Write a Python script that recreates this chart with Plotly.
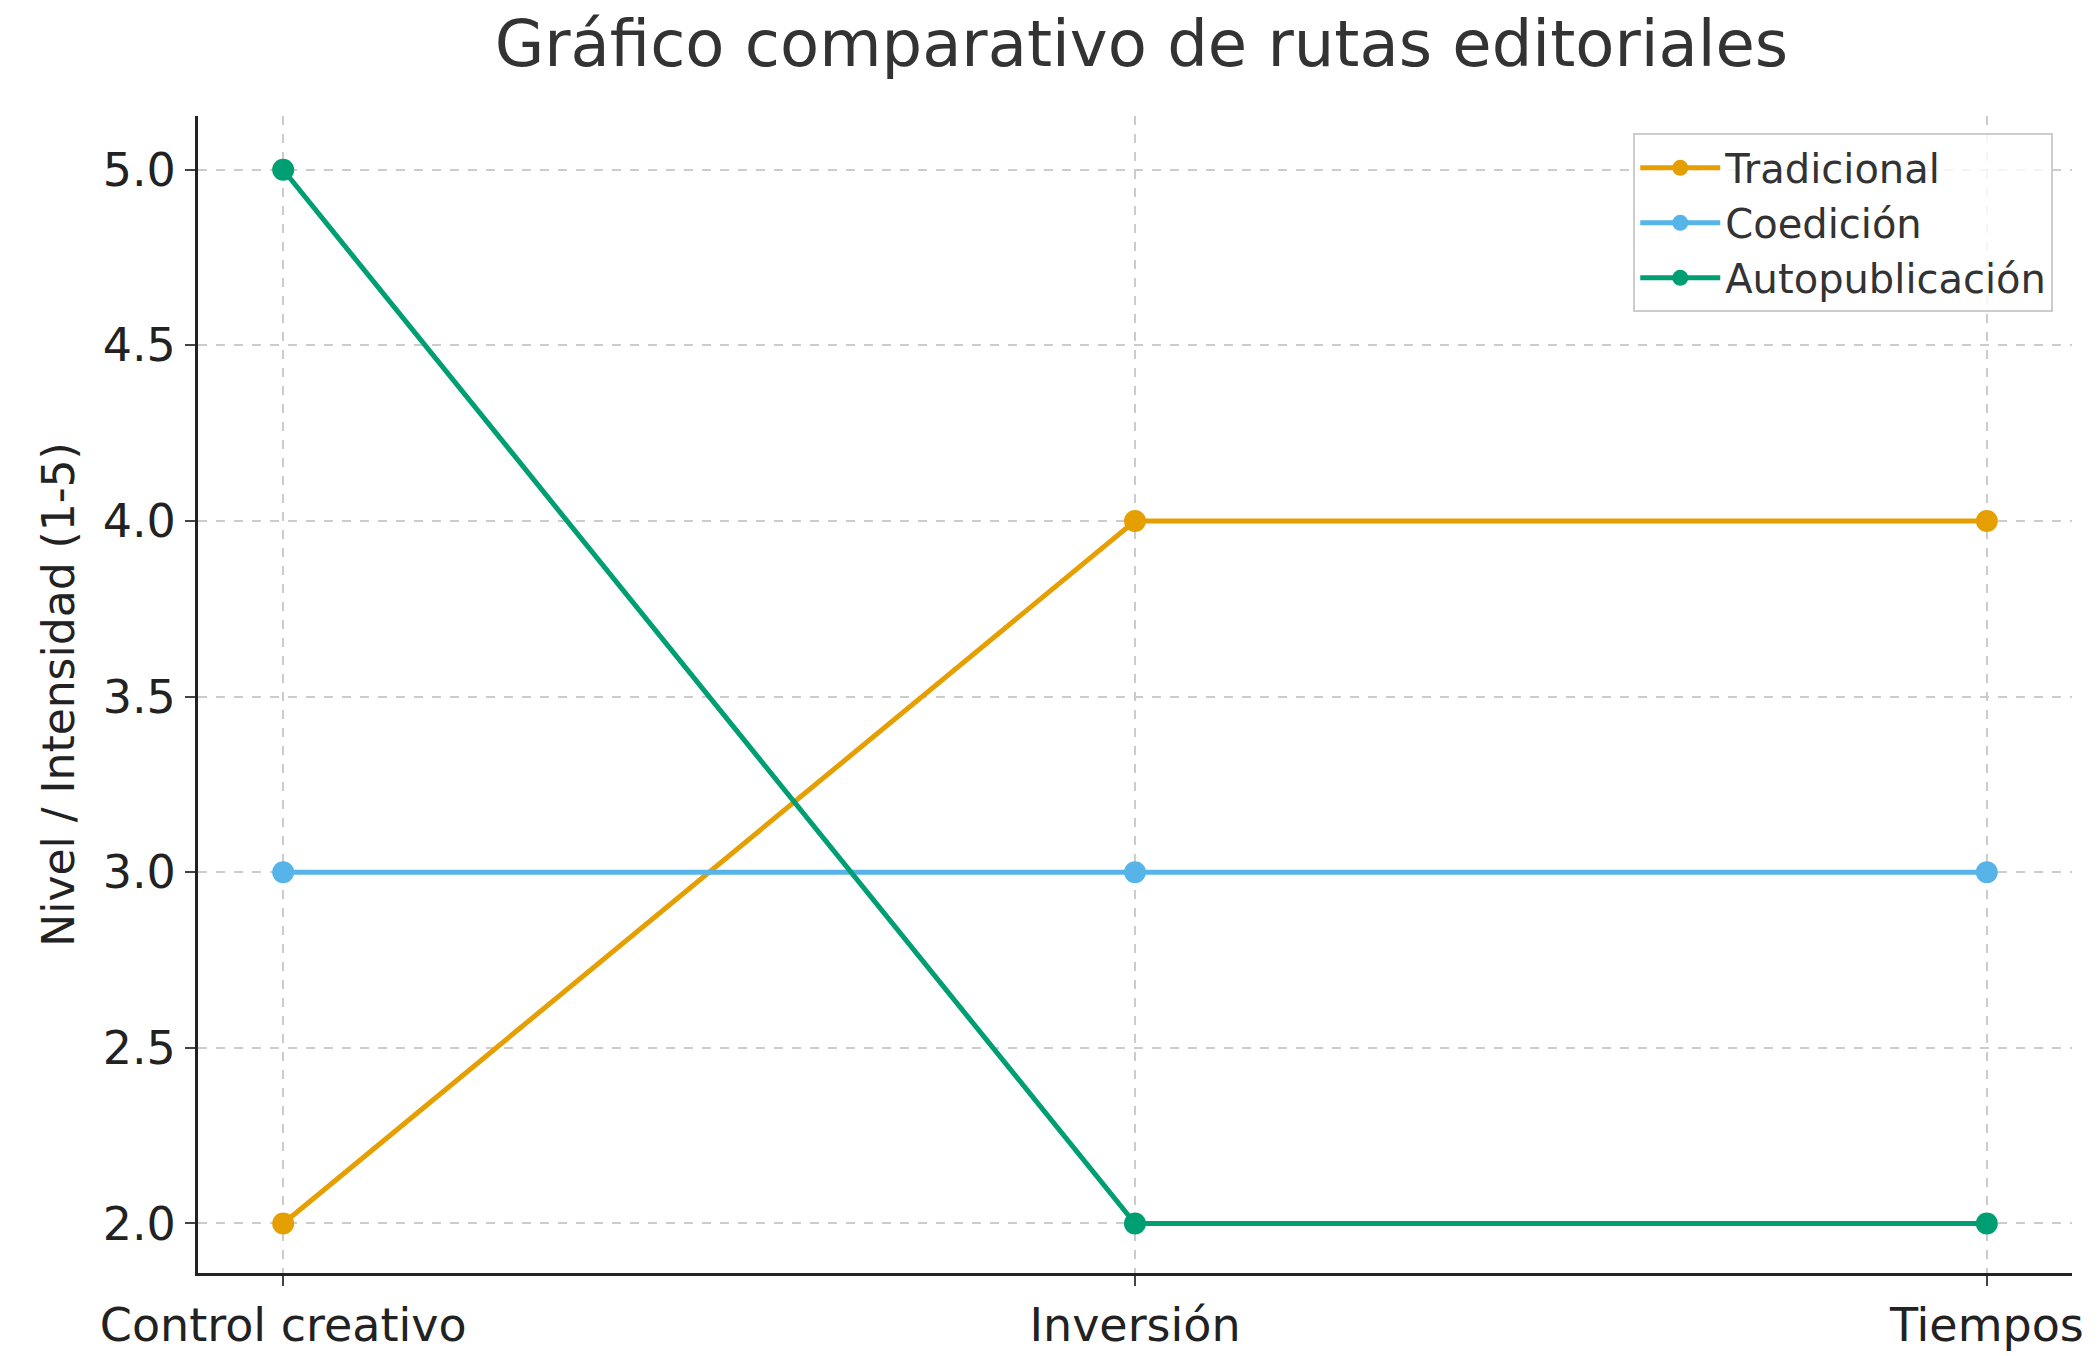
import plotly.graph_objects as go

categorias = ["Control creativo", "Inversión", "Tiempos"]
tradicional = [2, 4, 4]
coedicion = [3, 3, 3]
autopublicacion = [5, 2, 2]

series = [("Tradicional", tradicional, "#E69F00"),
          ("Coedición", coedicion, "#56B4E9"),
          ("Autopublicación", autopublicacion, "#009E73")]

fig = go.Figure()
for nombre, valores, color in series:
    fig.add_trace(go.Scatter(x=[0, 1, 2], y=valores, mode="lines+markers", name=nombre,
                             line=dict(color=color, width=5), marker=dict(size=22, color=color)))

fig.update_layout(
    width=2099, height=1356, plot_bgcolor="white", paper_bgcolor="white",
    font=dict(family="DejaVu Sans", color="#222222"),
    title=dict(text="Gráfico comparativo de rutas editoriales", x=0.54, xanchor="center",
               y=0.99, yanchor="top", font=dict(size=64, color="#333333")),
    margin=dict(l=190, r=35, t=108, b=85),
    legend=dict(x=0.99, y=0.985, xanchor="right", yanchor="top", bgcolor="rgba(255,255,255,0.8)",
                bordercolor="#CCCCCC", borderwidth=2, font=dict(size=40, color="#333333"),
                itemwidth=80, tracegroupgap=10),
    showlegend=True,
)
fig.update_xaxes(range=[-0.1, 2.1], tickvals=[0, 1, 2], ticktext=categorias,
                 showgrid=True, gridcolor="#CCCCCC", griddash="dash", gridwidth=1.5,
                 showline=True, linecolor="#222222", linewidth=3, ticks="outside",
                 ticklen=10, tickwidth=2, tickfont=dict(size=46), zeroline=False)
fig.update_yaxes(range=[1.859, 5.153], tickvals=[2, 2.5, 3, 3.5, 4, 4.5, 5],
                 ticktext=["2.0", "2.5", "3.0", "3.5", "4.0", "4.5", "5.0"],
                 title=dict(text="Nivel / Intensidad (1-5)", font=dict(size=44), standoff=15),
                 showgrid=True, gridcolor="#CCCCCC", griddash="dash", gridwidth=1.5,
                 showline=True, linecolor="#222222", linewidth=3, ticks="outside",
                 ticklen=10, tickwidth=2, tickfont=dict(size=46), zeroline=False)

fig.write_html("out.html")
